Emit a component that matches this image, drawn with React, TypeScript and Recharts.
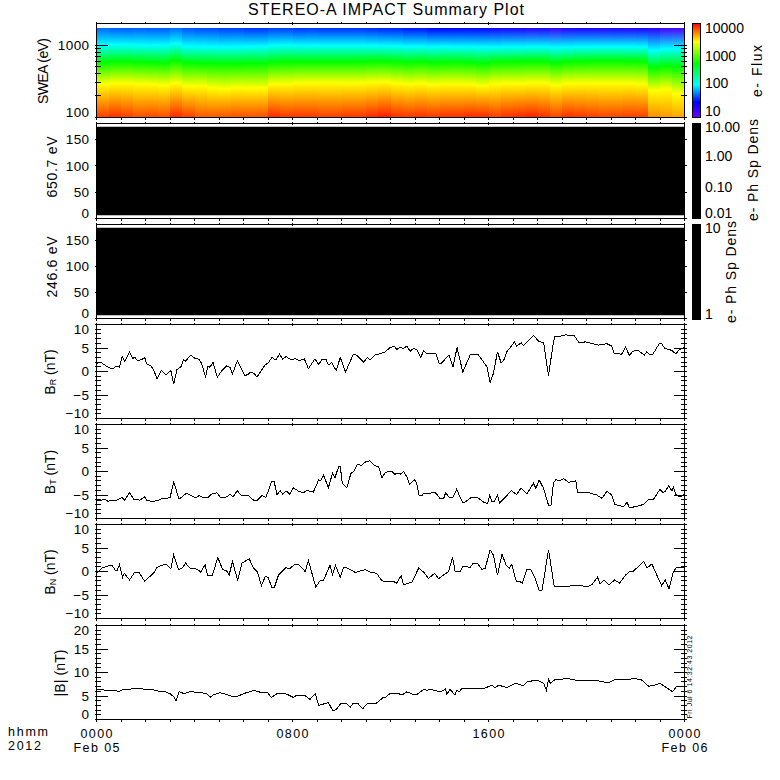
import React from 'react';
import { ComposedChart, Bar, Area, Line, XAxis, YAxis } from 'recharts';

// time in minutes from 0000 Feb 05
const brTimes = [0,5,13,25,38,50,56,63,69,81,89,94,100,110,118,123,133,140,148,159,167,172,182,189,197,208,213,218,231,239,251,257,267,273,278,285,296,307,319,327,333,345,363,371,376,386,393,405,413,421,430,435,440,448,456,464,476,487,496,509,519,535,544,552,562,568,576,587,597,610,629,638,654,664,670,682,699,707,719,730,735,744,752,760,768,776,784,794,801,809,831,839,845,863,873,883,897,915,921,934,944,956,964,972,982,991,997,1005,1024,1029,1040,1046,1070,1082,1095,1107,1119,1123,1135,1148,1170,1182,1197,1229,1250,1262,1268,1286,1296,1305,1312,1324,1342,1348,1356,1362,1378,1384,1392,1409,1419,1425,1440];
const brValues = [1.6,1.9,1.8,1.1,0.5,1.2,0.9,3.2,2.1,4.2,2.8,3.0,2.3,2.5,3.0,1.6,1.2,0.4,-1.6,0.2,-0.5,-0.6,0.2,-2.7,0.4,1.1,2.6,2.2,3.5,2.9,2.6,1.8,-1.1,1.1,0.9,2.0,-1.2,0.2,1.2,0.9,-0.5,2.3,-0.8,-0.7,-0.1,-0.4,-1.2,0.4,1.4,1.9,3.0,2.6,2.5,3.7,2.6,3.2,2.5,2.7,2.3,2.7,0.6,2.7,1.5,2.5,2.6,1.4,1.9,0.2,3.0,-0.1,3.7,3.4,2.0,3.0,2.5,3.5,3.9,4.2,5.1,5.4,4.7,5.1,4.9,5.4,4.3,4.9,4.7,3.0,4.4,3.8,3.9,1.7,1.8,3.5,1.0,5.1,-0.1,3.5,3.7,3.7,2.5,1.0,-2.3,-0.4,4.2,1.8,2.3,4.2,6.3,5.4,6.1,5.5,7.7,6.5,6.1,-0.9,6.3,7.5,7.5,7.8,7.6,6.1,6.3,5.6,5.9,5.4,3.8,3.7,5.2,3.4,4.2,4.6,3.5,4.2,3.5,3.6,5.9,5.9,4.9,4.5,3.7,4.5,5.1];

const btTimes = [0,5,13,21,27,38,50,62,69,81,91,106,118,123,136,152,160,180,189,194,202,221,242,252,262,272,282,295,304,319,327,334,345,353,372,386,394,405,415,429,435,442,450,456,464,473,482,497,507,515,531,544,549,556,568,578,584,593,597,602,613,623,631,639,650,658,669,682,691,699,707,717,725,731,738,744,752,760,766,779,784,790,798,802,809,829,842,850,855,864,873,882,896,903,918,932,948,958,963,968,975,982,987,994,1016,1029,1040,1054,1070,1076,1084,1095,1107,1113,1119,1125,1135,1144,1156,1174,1178,1205,1225,1238,1250,1262,1269,1282,1291,1299,1305,1319,1340,1352,1364,1380,1387,1393,1401,1409,1413,1419,1429,1440];
const btValues = [-6.1,-6.2,-6.1,-5.9,-6.3,-6.2,-6.1,-5.5,-6.1,-4.5,-5.9,-6.1,-5.4,-6.1,-6.4,-6.1,-5.8,-5.6,-2.3,-3.6,-5.9,-4.6,-5.6,-5.1,-5.6,-5.6,-4.8,-4.5,-5.6,-5.4,-4.8,-5.4,-4.1,-5.0,-5.1,-6.2,-6.1,-5.1,-5.5,-2.1,-2.1,-4.9,-4.1,-4.8,-4.1,-4.8,-3.5,-4.3,-4.5,-4.0,-4.4,-1.8,-2.0,-0.8,-3.4,-0.4,-1.3,1.0,1.1,-2.5,-3.5,-0.4,0.1,1.5,1.3,2.0,2.3,1.2,1.0,-1.3,-0.3,0.1,-0.1,-0.6,-0.3,-0.6,0,-1.1,-2.7,-1.8,-2.5,-5.0,-5.0,-4.6,-4.8,-4.4,-5.8,-5.8,-4.5,-5.5,-5.5,-3.8,-6.5,-6.5,-5.5,-5.5,-6.5,-6.8,-5.1,-6.3,-6.3,-5.0,-6.7,-6.1,-4.1,-4.9,-3.5,-4.8,-2.5,-3.6,-1.8,-3.6,-7.2,-7.2,-2.5,-1.7,-2.0,-1.5,-2.3,-2.0,-4.5,-4.5,-5.0,-5.7,-4.2,-5.0,-7.0,-7.3,-7.5,-6.5,-7.7,-7.5,-7.0,-5.9,-5.9,-3.8,-4.4,-4.3,-3.0,-4.1,-3.4,-4.9,-5.4,-4.9];

const bnTimes = [0,3,13,24,38,46,51,56,64,68,81,93,105,118,141,148,164,172,182,189,201,211,218,229,246,255,266,272,284,297,309,319,325,333,346,356,374,384,394,404,413,420,429,436,446,454,464,473,484,495,511,519,537,548,556,572,578,585,597,605,613,634,658,670,686,699,707,727,735,746,752,772,789,801,813,828,838,862,872,878,891,897,915,923,932,944,952,964,972,982,993,1003,1011,1017,1028,1036,1043,1054,1064,1074,1084,1091,1107,1121,1189,1201,1213,1227,1233,1243,1255,1269,1281,1296,1305,1315,1340,1348,1360,1372,1384,1393,1402,1413,1421,1440];
const bnValues = [-0.4,-0.1,0.7,1.1,1.3,0.3,0.3,1.4,-1.2,-0.4,-1.8,-0.2,-0.3,-2.1,-0.2,0.9,1.4,1.4,0.6,3.5,0.4,0.8,1.8,0.7,0.5,-0.1,1.4,-0.8,-0.8,3.0,0.4,0.1,-0.7,2.1,-1.9,1.8,2.7,0.8,-0.1,-3.0,-1.1,-1.2,-3.3,-3.3,-0.7,0,0.8,0.6,1.4,1.5,0,2.3,-3.3,-1.9,-1.9,1.4,-0.7,1.3,-1.2,0.9,0.8,-0.2,0.4,-0.1,-0.4,-2.0,-2.1,-2.1,-2.5,-0.9,-2.8,-2.3,0.7,-0.1,-1.5,-0.4,-1.5,0,3.0,0.1,-0.1,1.1,0.9,1.8,1.8,0.4,0.7,4.6,3.5,-0.8,3.7,1.4,0.7,1.5,-2.1,-2.1,-2.5,0.4,0.4,-1.4,-4.0,-4.0,4.6,-3.2,-3.0,-3.3,-2.8,-1.2,-2.7,-1.8,-2.8,-1.8,-2.5,-0.7,-0.1,0.1,2.1,0.7,1.6,-0.7,-3.0,-1.8,-3.7,0,0.9,0.8];

const btotTimes = [0,5,25,46,56,66,87,99,111,136,148,160,168,180,190,195,202,215,233,246,256,269,280,287,303,319,333,345,360,386,405,419,428,442,458,466,482,491,509,523,536,544,552,568,579,588,597,613,621,629,639,652,662,686,701,707,719,740,748,760,776,784,801,809,817,842,855,858,866,878,882,888,896,952,968,976,985,1005,1025,1046,1054,1078,1095,1102,1107,1111,1123,1156,1172,1229,1254,1270,1294,1319,1335,1352,1364,1380,1397,1411,1421,1440];
const btotValues = [6.3,6.4,6.2,6.1,6.0,6.4,6.5,6.7,6.5,6.4,6.1,5.9,5.9,5.5,4.8,4.0,5.9,5.5,6.0,5.7,5.7,5.5,4.7,5.3,5.7,5.3,4.9,4.9,5.5,6.2,5.7,5.7,4.7,5.5,5.5,5.4,4.7,5.2,5.2,4.3,5.5,3.0,3.2,3.6,1.8,2.2,3.3,3.4,2.6,3.5,3.5,2.3,3.3,3.5,4.6,4.7,5.5,5.5,5.2,5.9,5.3,5.3,6.4,6.2,6.4,5.9,6.5,5.4,6.4,5.2,6.2,5.9,6.7,6.7,7.3,6.7,7.3,6.8,7.7,7.2,8.0,8.4,7.7,6.2,8.6,7.7,8.5,8.7,8.4,8.2,7.8,8.5,8.5,8.7,8.4,7.1,7.2,7.7,6.7,5.9,7.1,7.1];

// SWEA spectrogram, one value per 30 minute column
const sweaColumns = [15,45,75,105,135,165,195,225,255,285,315,345,375,405,435,465,495,525,555,585,615,645,675,705,735,765,795,825,855,885,915,945,975,1005,1035,1065,1095,1125,1155,1185,1215,1245,1275,1305,1335,1365,1395,1425];
const yellowEnergy = [287,297,297,290,287,278,296,270,275,255,250,258,255,255,290,290,300,300,300,300,300,300,305,310,297,290,295,285,290,290,287,275,290,297,295,300,300,282,295,297,297,297,297,297,290,235,245,215];
const greenEnergy = [575,590,590,580,575,570,610,570,560,560,555,555,560,560,580,590,590,590,590,590,590,590,600,600,590,580,590,575,580,585,575,560,590,590,595,600,600,570,590,600,605,605,605,600,600,490,510,500];
const cyanEnergy = [1000,1015,1015,1005,1000,1000,1045,960,960,950,945,950,960,960,990,1000,990,990,990,990,990,990,985,980,970,960,960,950,955,950,945,940,940,950,945,950,950,930,940,950,950,950,950,950,945,850,890,900];
const bottomFlux = [10500,11500,10500,9500,9800,9500,12000,10500,9000,9000,9200,9500,9500,9500,12000,11000,11000,11000,10500,10500,11000,11000,12000,13000,11500,11000,11500,11000,11500,11500,12000,12000,10500,11500,12000,12500,11500,10000,11500,11000,10500,10000,10000,10500,10500,6400,6000,5500];
const topFlux = [36,34,33,34,33,33,37,32,30,30,28,28,26,26,28,28,26,27,26,26,26,26,25,24,24,22,22,20,20,20,19,18,16,15,14,12,13,10,13,14,14,13,14,13,14,12,9,8];

// flux level of each colour on the colour bar
const colorLevels = [0.75, 1.3, 1.93, 2.7, 3.5, 4.18];
const colorValues = [[110, 0, 255], [0, 0, 255], [0, 255, 255], [0, 255, 0], [255, 255, 0], [255, 0, 0]];

const hourTicks = Array.from({ length: 25 }, (_, i) => i * 60);
const majorHours = [0, 480, 960, 1440];
const sweaTicks = [100, 200, 300, 400, 500, 600, 700, 800, 900, 1000];
const pitchTicks = [0, 50, 100, 150];
const fieldTicks = [-10,-9,-8,-7,-6,-5,-4,-3,-2,-1,0,1,2,3,4,5,6,7,8,9,10];
const btotTicks = Array.from({ length: 21 }, (_, i) => i);
const timeLabels: Record<number, string[]> = { 0: ['0000', 'Feb 05'], 480: ['0800'], 960: ['1600'], 1440: ['0000', 'Feb 06'] };

const FONT = '"Liberation Sans", Arial, sans-serif';
const LEFT = 96.5;
const RIGHT = 684.5;
const SIZE = 780;

const fluxColor = (flux: number) => {
  const lf = Math.log10(flux);
  let i = 0;
  while (i < colorLevels.length - 2 && lf > colorLevels[i + 1]) i++;
  const f = Math.min(1, Math.max(0, (lf - colorLevels[i]) / (colorLevels[i + 1] - colorLevels[i])));
  const c = colorValues[i].map((a, k) => Math.round(a + (colorValues[i + 1][k] - a) * f));
  return `rgb(${c[0]},${c[1]},${c[2]})`;
};

const SWEA_LOW = 100;
const SWEA_HIGH = 1722;
const sweaOffset = (e: number) => (Math.log10(e) - 2) / (Math.log10(SWEA_HIGH) - 2);

const sweaRows = sweaColumns.map((t, i) => ({
  t,
  span: [SWEA_LOW, SWEA_HIGH],
  yellow: yellowEnergy[i],
  green: greenEnergy[i],
  cyan: cyanEnergy[i],
  bottom: bottomFlux[i],
  top: topFlux[i],
}));

const HeatColumn = (props: any) => {
  const { x, y, width, height, payload } = props;
  const id = `swea-${payload.t}`;
  return (
    <g>
      <defs>
        <linearGradient id={id} x1="0" y1="1" x2="0" y2="0">
          <stop offset={0} stopColor={fluxColor(payload.bottom)} />
          <stop offset={sweaOffset(payload.yellow)} stopColor="rgb(255,255,0)" />
          <stop offset={sweaOffset(payload.green)} stopColor="rgb(0,255,0)" />
          <stop offset={sweaOffset(payload.cyan)} stopColor="rgb(0,255,255)" />
          <stop offset={1} stopColor={fluxColor(payload.top)} />
        </linearGradient>
      </defs>
      <rect x={x} y={y} width={width + 1} height={height} fill={`url(#${id})`} shapeRendering="crispEdges" />
    </g>
  );
};

const XTick = (props: any) => {
  const { x, y, payload, side, labels } = props;
  const len = majorHours.includes(payload.value) ? 3 : 2;
  const dir = side === 'top' ? 1 : -1;
  const lines = labels ? timeLabels[payload.value] : null;
  return (
    <g>
      <line x1={x} x2={x} y1={y} y2={y + dir * len} stroke="#000" shapeRendering="crispEdges" />
      {lines && lines.map((s: string, i: number) => (
        <text key={s} x={x} y={y + 16.5 + i * 14.4} textAnchor="middle" fontFamily={FONT} fontSize={12.5} textLength={i ? 46 : 32} lengthAdjust="spacing" fill="#000">{s}</text>
      ))}
    </g>
  );
};

const YTick = (props: any) => {
  const { x, y, payload, side, majors, top, bottom } = props;
  const v = payload.value;
  const major = majors.includes(v);
  const len = major ? 13 : 6;
  const dir = side === 'left' ? 1 : -1;
  const ly = Math.min(bottom - 5, Math.max(top + 5, y));
  return (
    <g>
      <line x1={x} x2={x + dir * len} y1={y} y2={y} stroke="#000" shapeRendering="crispEdges" />
      {side === 'left' && major && (
        <text x={x - 5} y={ly} dy="0.36em" textAnchor="end" fontFamily={FONT} fontSize={13.5} letterSpacing={0.4} fill="#000">
          {String(v).replace('-', '\u2212')}
        </text>
      )}
    </g>
  );
};

// frame, inward ticks and tick labels of one panel
const panelAxes = (top: number, bottom: number, yTicks: number[], majors: number[], domain: number[], log: boolean, timeAxis: boolean) => {
  const yScale = log ? { scale: 'log' as const, allowDataOverflow: true } : { allowDataOverflow: true };
  const line = { stroke: '#000', strokeWidth: 1, shapeRendering: 'crispEdges' };
  return [
    <XAxis key="xb" dataKey="t" type="number" domain={[0, 1440]} ticks={hourTicks} interval={0} height={1} tickSize={0} tickLine={false} axisLine={line} allowDataOverflow
      tick={(p: any) => <XTick {...p} side="bottom" labels={timeAxis} />} />,
    <XAxis key="xt" xAxisId="top" orientation="top" dataKey="t" type="number" domain={[0, 1440]} ticks={hourTicks} interval={0} height={1} tickSize={0} tickLine={false} axisLine={line} allowDataOverflow
      tick={(p: any) => <XTick {...p} side="top" />} />,
    <YAxis key="yl" type="number" domain={domain} ticks={yTicks} interval={0} width={1} tickSize={0} tickLine={false} axisLine={line} {...yScale}
      tick={(p: any) => <YTick {...p} side="left" majors={majors} top={top} bottom={bottom} />} />,
    <YAxis key="yr" yAxisId="right" orientation="right" type="number" domain={domain} ticks={yTicks} interval={0} width={1} tickSize={0} tickLine={false} axisLine={line} {...yScale}
      tick={(p: any) => <YTick {...p} side="right" majors={majors} top={top} bottom={bottom} />} />,
  ];
};

// each axis takes 1px, so the margins stop 1px short of the plot box
const chartProps = (top: number, bottom: number) => ({
  width: SIZE,
  height: SIZE,
  margin: { top: top - 1, bottom: SIZE - bottom - 1, left: LEFT - 1, right: SIZE - RIGHT - 1 },
  style: { position: 'absolute' as const, left: 0, top: 0 },
});

const SweaPanel = () => (
  <ComposedChart {...chartProps(23.5, 117.5)} data={sweaRows} barCategoryGap={0} barGap={0}>
    <Bar dataKey="span" isAnimationActive={false} shape={HeatColumn} />
    {panelAxes(23.5, 117.5, sweaTicks, [100, 1000], [100, 1990], true, false)}
  </ComposedChart>
);

const pitchBand = [6, 174];
const blackRows = [{ t: 0, band: pitchBand }, { t: 1440, band: pitchBand }];

const PitchPanel = ({ top, bottom }: { top: number; bottom: number }) => (
  <ComposedChart {...chartProps(top, bottom)} data={blackRows}>
    <Area dataKey="band" type="linear" fill="#000" fillOpacity={1} stroke="none" dot={false} activeDot={false} isAnimationActive={false} />
    {panelAxes(top, bottom, pitchTicks, pitchTicks, [0, 180], false, false)}
  </ComposedChart>
);

const FieldPanel = ({ top, bottom, times, values, ticks, majors, domain, timeAxis }: any) => (
  <ComposedChart {...chartProps(top, bottom)} data={times.map((t: number, i: number) => ({ t, v: values[i] }))}>
    <Line dataKey="v" type="linear" stroke="#000" strokeWidth={1} dot={false} activeDot={false} isAnimationActive={false} style={{ shapeRendering: 'crispEdges' }} />
    {panelAxes(top, bottom, ticks, majors, domain, false, !!timeAxis)}
  </ComposedChart>
);

const txt = { fontFamily: FONT, fill: '#000' };

const VLabel = ({ x, y, len, size = 14, children }: any) => (
  <text x={x} y={y} transform={`rotate(-90 ${x} ${y})`} textAnchor="middle" dominantBaseline="central" fontSize={size} textLength={len} lengthAdjust="spacing" {...txt}>
    {children}
  </text>
);

const Side = ({ x, y, children }: any) => (
  <text x={x} y={y} dy="0.36em" fontSize={14} {...txt}>{children}</text>
);

const fluxBarLevels = [colorLevels[0], ...colorLevels.slice(1), 4.16];

const Annotations = () => (
  <svg width={SIZE} height={SIZE} style={{ position: 'absolute', left: 0, top: 0 }}>
    <defs>
      <linearGradient id="fluxbar" x1="0" y1="1" x2="0" y2="0">
        {fluxBarLevels.map(l => (
          <stop key={l} offset={(l - 0.745) / (4.16 - 0.745)} stopColor={fluxColor(Math.pow(10, l))} />
        ))}
      </linearGradient>
    </defs>
    <text x={386} y={15} textAnchor="middle" fontSize={16} textLength={276} lengthAdjust="spacing" {...txt}>STEREO-A IMPACT Summary Plot</text>

    <VLabel x={43} y={71} len={66}>SWEA (eV)</VLabel>
    <VLabel x={52} y={167} len={61}>650.7 eV</VLabel>
    <VLabel x={52} y={267} len={61}>246.6 eV</VLabel>
    <text x={50} y={372} transform="rotate(-90 50 372)" textAnchor="middle" dominantBaseline="central" fontSize={14} {...txt}>B<tspan fontSize={9} dy={3}>R</tspan><tspan dy={-3}> (nT)</tspan></text>
    <text x={50} y={472} transform="rotate(-90 50 472)" textAnchor="middle" dominantBaseline="central" fontSize={14} {...txt}>B<tspan fontSize={9} dy={3}>T</tspan><tspan dy={-3}> (nT)</tspan></text>
    <text x={50} y={572} transform="rotate(-90 50 572)" textAnchor="middle" dominantBaseline="central" fontSize={14} {...txt}>B<tspan fontSize={9} dy={3}>N</tspan><tspan dy={-3}> (nT)</tspan></text>
    <VLabel x={60} y={673} len={47}>|B| (nT)</VLabel>

    <rect x={692.5} y={23.5} width={8} height={94} fill="url(#fluxbar)" stroke="#000" shapeRendering="crispEdges" />
    <rect x={692} y={123} width={9} height={95.5} fill="#000" shapeRendering="crispEdges" />
    <rect x={692} y={224} width={9} height={95.5} fill="#000" shapeRendering="crispEdges" />

    <Side x={705} y={28}>10000</Side>
    <Side x={705} y={56}>1000</Side>
    <Side x={705} y={83}>100</Side>
    <Side x={705} y={111}>10</Side>
    <VLabel x={757} y={71} len={52}>e- Flux</VLabel>

    <Side x={705} y={127}>10.00</Side>
    <Side x={705} y={156}>1.00</Side>
    <Side x={705} y={187}>0.10</Side>
    <Side x={705} y={213}>0.01</Side>
    <VLabel x={753} y={170} len={102}>e- Ph Sp Dens</VLabel>

    <Side x={705} y={228}>10</Side>
    <Side x={705} y={314}>1</Side>
    <VLabel x={731} y={272} len={102}>e- Ph Sp Dens</VLabel>

    <VLabel x={689.5} y={677} len={83} size={7}>Fri Jul  6 14:32:43 2012</VLabel>

    <text x={8} y={735.5} fontSize={12.5} textLength={40} lengthAdjust="spacing" {...txt}>hhmm</text>
    <text x={8} y={750} fontSize={12.5} textLength={33} lengthAdjust="spacing" {...txt}>2012</text>
  </svg>
);

export default function App() {
  return (
    <div style={{ position: 'absolute', left: 0, top: 0, width: SIZE, height: SIZE, background: '#fff' }}>
      <SweaPanel />
      <PitchPanel top={123.5} bottom={218.5} />
      <PitchPanel top={224.5} bottom={318.5} />
      <FieldPanel top={324.5} bottom={418.5} times={brTimes} values={brValues} ticks={fieldTicks} majors={[-10, -5, 0, 5, 10]} domain={[-10, 10]} />
      <FieldPanel top={424.5} bottom={518.5} times={btTimes} values={btValues} ticks={fieldTicks} majors={[-10, -5, 0, 5, 10]} domain={[-10, 10]} />
      <FieldPanel top={524.5} bottom={618.5} times={bnTimes} values={bnValues} ticks={fieldTicks} majors={[-10, -5, 0, 5, 10]} domain={[-10, 10]} />
      <FieldPanel top={625.5} bottom={719.5} times={btotTimes} values={btotValues} ticks={btotTicks} majors={[0, 5, 10, 15, 20]} domain={[0, 20]} timeAxis />
      <Annotations />
    </div>
  );
}
